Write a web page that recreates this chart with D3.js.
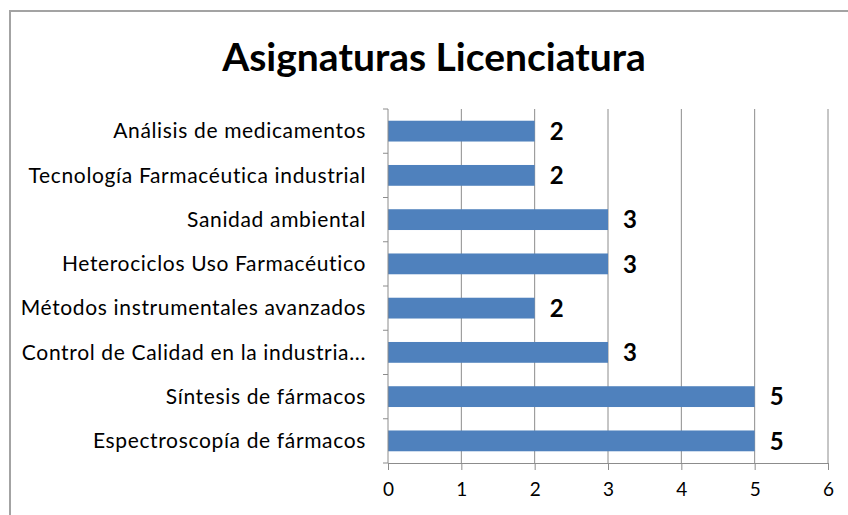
<!DOCTYPE html>
<html>
<head>
<meta charset="utf-8">
<script src="https://cdn.jsdelivr.net/npm/d3@7"></script>
<style>
  html, body { margin: 0; padding: 0; background: #fff; }
  svg { display: block; }
  text { font-family: Lato, "Open Sans", sans-serif; fill: #000; }
</style>
</head>
<body>
<script>
const categories = [
  "Análisis de medicamentos",
  "Tecnología Farmacéutica industrial",
  "Sanidad ambiental",
  "Heterociclos Uso Farmacéutico",
  "Métodos instrumentales avanzados",
  "Control de Calidad en la industria...",
  "Síntesis de fármacos",
  "Espectroscopía de fármacos"
];
const values = [2, 2, 3, 3, 2, 3, 5, 5];
const xTicks = [0, 1, 2, 3, 4, 5, 6];
const title = "Asignaturas Licenciatura";

(function () {
const W = 848, H = 515;
const svg = d3.select("body").append("svg").attr("width", W).attr("height", H);

// outer chart border (cropped at right/bottom)
svg.append("rect")
  .attr("x", 10).attr("y", 11)
  .attr("width", W + 20).attr("height", H + 20)
  .attr("fill", "#fff")
  .attr("stroke", "#a3a3a3").attr("stroke-width", 2);

const pLeft = 388, pRight = 828, pTop = 109, pBottom = 463;

const x = d3.scaleLinear().domain([0, 6]).range([pLeft, pRight]);
const y = d3.scaleBand().domain(categories).range([pTop, pBottom]).paddingInner(0.53).paddingOuter(0.265);

// title
svg.append("text")
  .attr("x", 434).attr("y", 71)
  .attr("text-anchor", "middle")
  .attr("font-size", 39).attr("font-weight", "bold")
  .text(title);

// vertical gridlines
svg.append("g").selectAll("line").data(xTicks.filter(d => d > 0)).join("line")
  .attr("x1", d => x(d)).attr("x2", d => x(d))
  .attr("y1", pTop).attr("y2", pBottom)
  .attr("stroke", "#8c8c8c").attr("stroke-width", 1);

// bars
svg.append("g").selectAll("rect").data(values).join("rect")
  .attr("x", x(0))
  .attr("y", (d, i) => y(categories[i]))
  .attr("width", d => x(d) - x(0))
  .attr("height", y.bandwidth())
  .attr("fill", "#4f81bd");

// value labels
svg.append("g").selectAll("text").data(values).join("text")
  .attr("x", d => x(d) + 15)
  .attr("y", (d, i) => y(categories[i]) + y.bandwidth() / 2)
  .attr("dy", "0.36em")
  .attr("font-size", 24).attr("font-weight", "bold")
  .text(d => d);

// x axis
const xAxis = d3.axisBottom(x).tickValues(xTicks).tickSize(7).tickPadding(13).tickFormat(d3.format("d"));
const gx = svg.append("g").attr("transform", `translate(0,${pBottom})`).call(xAxis);
gx.select(".domain").attr("stroke", "#8c8c8c");
gx.selectAll(".tick line").attr("stroke", "#8c8c8c");
gx.selectAll(".tick text").attr("font-size", 19).attr("font-family", "Lato, sans-serif").attr("fill", "#000");

// y axis: ticks at category boundaries
const step = (pBottom - pTop) / categories.length;
const bounds = d3.range(categories.length + 1).map(i => pTop + i * step);
svg.append("line")
  .attr("x1", pLeft).attr("x2", pLeft).attr("y1", pTop).attr("y2", pBottom)
  .attr("stroke", "#8c8c8c");
svg.append("g").selectAll("line").data(bounds).join("line")
  .attr("x1", pLeft - 5).attr("x2", pLeft)
  .attr("y1", d => d).attr("y2", d => d)
  .attr("stroke", "#8c8c8c");

// category labels
svg.append("g").selectAll("text").data(categories).join("text")
  .attr("x", 366)
  .attr("y", d => y(d) + y.bandwidth() / 2)
  .attr("dy", "0.35em")
  .attr("text-anchor", "end")
  .attr("font-size", 21)
  .attr("letter-spacing", "0.65px")
  .text(d => d);
})();
</script>
</body>
</html>
